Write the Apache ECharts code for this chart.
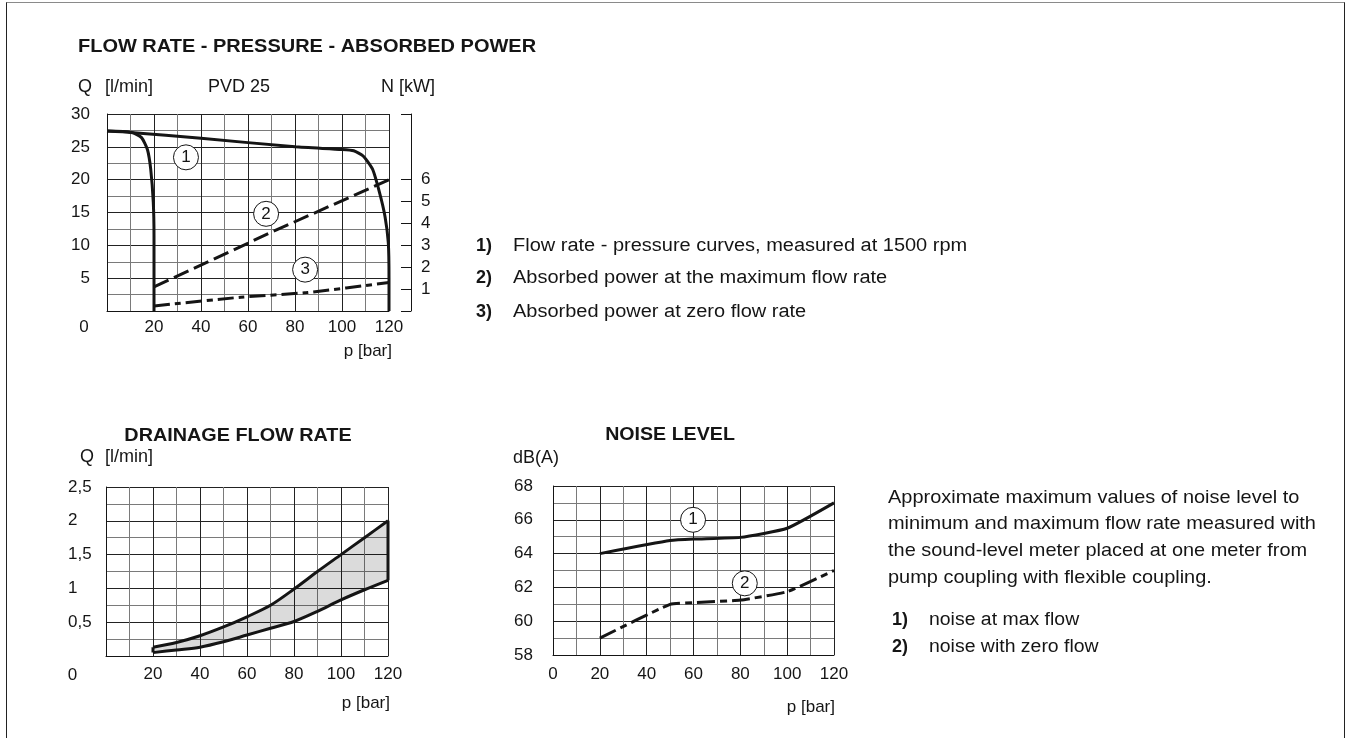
<!DOCTYPE html>
<html>
<head>
<meta charset="utf-8">
<title>PVD 25 - flow rate, drainage, noise</title>
<script src="https://cdn.jsdelivr.net/npm/echarts@6/dist/echarts.min.js"></script>
<style>
html, body { margin: 0; padding: 0; background: #fff; }
#chart { width: 1348px; height: 738px; position: relative; }
.frame {
  position: absolute; left: 6px; top: 2px; width: 1337px; height: 760px;
  border-left: 1px solid #222; border-right: 1px solid #222; border-top: 1px solid #8a8a8a;
  pointer-events: none;
}
</style>
</head>
<body>
<div id="chart"></div>
<div class="frame"></div>
<script>
// --- flow rate - pressure (Q l/min over p bar) ---
const outerP = [0, 10, 40, 80, 100, 105, 109, 113, 116, 118.3, 119.7, 120, 120]
const outerQ = [27.4, 27.2, 26.3, 25.0, 24.6, 24.4, 23.6, 21.6, 18.0, 14.4, 10.4, 5, 0]
const innerP = [0, 10.5, 14.7, 17.2, 18.6, 19.7, 20, 20]
const innerQ = [27.4, 27.2, 26.4, 24.6, 21.6, 16.5, 11.4, 0]
// absorbed power (N kW)
const powerMaxP = [20, 70, 120]
const powerMaxN = [1.1, 3.6, 6.0]
const powerZeroP = [20, 57, 85, 120]
const powerZeroN = [0.23, 0.63, 0.84, 1.3]
const nLabels = [1, 2, 3, 4, 5, 6]
const nTicks = [0, 1, 2, 3, 4, 5, 6, 9]
// numbered circles, in data units
const flowMarks = [[33.6, 23.4, '1'], [67.7, 14.8, '2'], [84.3, 6.3, '3']]

// --- drainage flow rate ---
const drainP = [20, 30, 40, 50, 60, 70, 80, 90, 100, 110, 120]
const drainHigh = [0.13, 0.2, 0.3, 0.43, 0.58, 0.75, 0.99, 1.25, 1.5, 1.75, 2.0]
const drainLow = [0.05, 0.09, 0.13, 0.21, 0.31, 0.41, 0.51, 0.66, 0.83, 0.98, 1.12]

// --- noise level ---
const noiseP = [20, 50, 60, 80, 100, 120]
const noiseMax = [64, 64.77, 64.86, 64.96, 65.5, 67]
const noiseZero = [59, 61, 61.1, 61.25, 61.75, 63]
const noiseMarks = [[59.8, 66.0, '1'], [81.9, 62.24, '2']]

const FONT = '"Liberation Sans", Arial, sans-serif'
const INK = '#151515'

const zip = (xs, ys) => xs.map((x, i) => [x, ys[i]])

function pAxis(gridIndex, margin, showZero) {
  return {
    type: 'value', gridIndex, min: 0, max: 120, interval: 20,
    axisLine: { show: true, lineStyle: { color: INK, width: 1 } },
    axisTick: { show: false },
    minorTick: { show: false, splitNumber: 2 },
    splitLine: { show: true, lineStyle: { color: '#222', width: 1 } },
    minorSplitLine: { show: true, lineStyle: { color: '#7a7a7a', width: 1 } },
    axisLabel: { margin, showMinLabel: showZero, color: INK, fontSize: 17, fontFamily: FONT }
  }
}

function vAxis(gridIndex, min, max, interval, label) {
  return {
    type: 'value', gridIndex, min, max, interval,
    axisLine: { show: true, lineStyle: { color: INK, width: 1 } },
    axisTick: { show: false },
    minorTick: { show: false, splitNumber: 2 },
    splitLine: { show: true, lineStyle: { color: '#222', width: 1 } },
    minorSplitLine: { show: true, lineStyle: { color: '#7a7a7a', width: 1 } },
    axisLabel: Object.assign({ color: INK, fontSize: 17, fontFamily: FONT }, label)
  }
}

function curve(xi, yi, data, dash, extra) {
  return Object.assign({
    type: 'line', xAxisIndex: xi, yAxisIndex: yi, data,
    symbol: 'none', silent: true, z: 5,
    lineStyle: { color: INK, width: 3, type: dash || 'solid' }
  }, extra)
}

function marks(xi, yi, data) {
  return {
    type: 'scatter', xAxisIndex: xi, yAxisIndex: yi, data,
    symbol: 'circle', symbolSize: 25, silent: true, z: 8,
    itemStyle: { color: '#fff', borderColor: INK, borderWidth: 1, opacity: 1 },
    label: {
      show: true, position: 'inside', formatter: (p) => p.value[2],
      color: INK, fontSize: 17, fontFamily: FONT
    }
  }
}

function txt(text, x, y, o) {
  o = o || {}
  return {
    type: 'text', x, y, scaleX: o.sx || 1, silent: true,
    style: {
      text, fill: INK, align: o.align || 'left', verticalAlign: 'middle',
      font: (o.bold ? 'bold ' : '') + (o.size || 18) + 'px ' + FONT
    }
  }
}

const chart = echarts.init(document.getElementById('chart'))

const option = {
  animation: false,
  backgroundColor: '#fff',
  grid: [
    { left: 107, top: 114, width: 282, height: 197, containLabel: false, outerBoundsMode: 'none' },
    { left: 106, top: 487, width: 282, height: 169, containLabel: false, outerBoundsMode: 'none' },
    { left: 553, top: 486, width: 281, height: 169, containLabel: false, outerBoundsMode: 'none' }
  ],
  xAxis: [
    pAxis(0, 8, false),
    pAxis(1, 10, false),
    pAxis(2, 11, true)
  ],
  yAxis: [
    vAxis(0, 0, 30, 5, { margin: 17, showMinLabel: false }),
    {
      type: 'value', gridIndex: 0, position: 'right', offset: 22, min: 0, max: 9, interval: 1,
      axisLine: { show: true, lineStyle: { color: INK, width: 1 } },
      axisTick: { show: true, inside: true, length: 10, customValues: nTicks, lineStyle: { color: INK, width: 1 } },
      axisLabel: { customValues: nLabels, margin: 10, color: INK, fontSize: 17, fontFamily: FONT },
      splitLine: { show: false }
    },
    vAxis(1, 0, 2.5, 0.5, {
      margin: 38, align: 'left', showMinLabel: false,
      formatter: (v) => String(v).replace('.', ',')
    }),
    vAxis(2, 58, 68, 2, { margin: 20 })
  ],
  series: [
    curve(0, 0, zip(outerP, outerQ), 'solid', { smooth: 0.2 }),
    curve(0, 0, zip(innerP, innerQ), 'solid', { smooth: 0.2 }),
    curve(0, 1, zip(powerMaxP, powerMaxN), [16, 6]),
    curve(0, 1, zip(powerZeroP, powerZeroN), [16, 5, 6, 5], { smooth: 0.2 }),
    marks(0, 0, flowMarks),

    // drainage band: polygon between the two curves, translucent so the grid shows through
    {
      type: 'custom', xAxisIndex: 1, yAxisIndex: 2, silent: true, z: 3,
      data: [[drainP[0], drainLow[0]]],
      renderItem: (params, api) => {
        const upper = drainP.map((p, i) => api.coord([p, drainHigh[i]]))
        const lower = drainP.map((p, i) => api.coord([p, drainLow[i]])).reverse()
        return {
          type: 'polygon',
          shape: { points: upper.concat(lower) },
          style: { fill: 'rgba(0,0,0,0.14)' }
        }
      }
    },
    curve(1, 2, zip(drainP, drainHigh), 'solid', { smooth: 0.3 }),
    curve(1, 2, zip(drainP, drainLow), 'solid', { smooth: 0.3 }),
    curve(1, 2, [[drainP[drainP.length - 1], drainLow[drainLow.length - 1]], [drainP[drainP.length - 1], drainHigh[drainHigh.length - 1]]]),
    curve(1, 2, [[drainP[0], drainLow[0]], [drainP[0], drainHigh[0]]]),

    curve(2, 3, zip(noiseP, noiseMax), 'solid', { smooth: 0.15 }),
    curve(2, 3, zip(noiseP, noiseZero), [18, 5, 7, 5], { smooth: 0.15 }),
    marks(2, 3, noiseMarks)
  ],
  graphic: [
    txt('FLOW RATE - PRESSURE - ABSORBED POWER', 78, 47, { bold: true, sx: 1.11 }),
    txt('Q', 78, 87),
    txt('[l/min]', 105, 87),
    txt('PVD 25', 208, 87),
    txt('N [kW]', 381, 87),
    txt('0', 84, 327, { align: 'center', size: 17 }),
    txt('p [bar]', 392, 351, { align: 'right', size: 17 }),

    txt('1)', 476, 246, { bold: true }),
    txt('Flow rate - pressure curves, measured at 1500 rpm', 513, 246, { sx: 1.11 }),
    txt('2)', 476, 278, { bold: true }),
    txt('Absorbed power at the maximum flow rate', 513, 278, { sx: 1.11 }),
    txt('3)', 476, 312, { bold: true }),
    txt('Absorbed power at zero flow rate', 513, 312, { sx: 1.11 }),

    txt('DRAINAGE FLOW RATE', 238, 436, { bold: true, align: 'center', sx: 1.1 }),
    txt('Q', 80, 457),
    txt('[l/min]', 105, 457),
    txt('0', 72.5, 675, { align: 'center', size: 17 }),
    txt('p [bar]', 390, 703, { align: 'right', size: 17 }),

    txt('NOISE LEVEL', 670, 435, { bold: true, align: 'center', sx: 1.09 }),
    txt('dB(A)', 513, 458),
    txt('p [bar]', 835, 707, { align: 'right', size: 17 }),

    txt('Approximate maximum values of noise level to', 888, 498, { size: 19, sx: 1.05 }),
    txt('minimum and maximum flow rate measured with', 888, 524, { size: 19, sx: 1.05 }),
    txt('the sound-level meter placed at one meter from', 888, 551, { size: 19, sx: 1.05 }),
    txt('pump coupling with flexible coupling.', 888, 578, { size: 19, sx: 1.05 }),
    txt('1)', 892, 620, { bold: true }),
    txt('noise at max flow', 929, 620, { sx: 1.08 }),
    txt('2)', 892, 647, { bold: true }),
    txt('noise with zero flow', 929, 647, { sx: 1.08 })
  ]
}

chart.setOption(option)
</script>
</body>
</html>
